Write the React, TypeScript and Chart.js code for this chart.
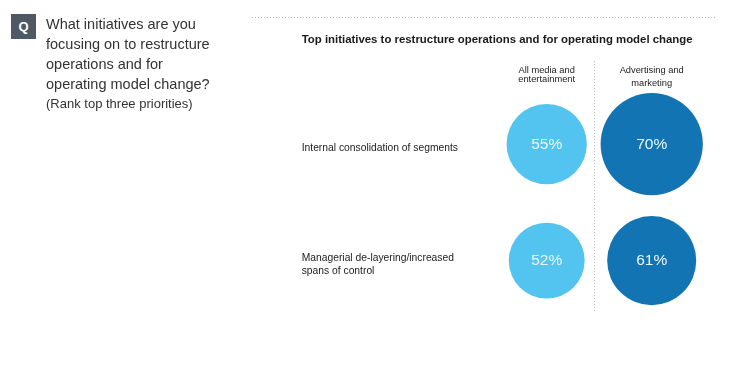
import React, { useEffect, useRef } from 'react';
import { Chart, registerables } from 'chart.js';

Chart.register(...registerables);

const chartTitle = 'Top initiatives to restructure operations and for operating model change';
const rowLabels = ['Internal consolidation of segments', 'Managerial de-layering/increased spans of control'];
const rowLabelLines = [['Internal consolidation of segments'], ['Managerial de-layering/increased', 'spans of control']];
const columnLabels = ['All media and entertainment', 'Advertising and marketing'];
const columnLabelLines = [['All media and', 'entertainment'], ['Advertising and', 'marketing']];
const allMediaValues = [55, 52];
const advertisingValues = [70, 61];
const questionLines = ['What initiatives are you', 'focusing on to restructure', 'operations and for', 'operating model change?'];
const questionNote = '(Rank top three priorities)';

const FONT = "'Liberation Sans', Arial, sans-serif";
const RADIUS_PER_POINT = 0.73;
const seriesValues = [allMediaValues, advertisingValues];
const seriesColors = ['#52c4ef', '#1274b2'];

const decorPlugin = {
  id: 'decor',
  beforeDraw(chart: any) {
    const ctx = chart.ctx;
    ctx.save();
    ctx.strokeStyle = '#bdbdbd';
    ctx.lineWidth = 1;
    ctx.setLineDash([1, 2]);
    ctx.beginPath();
    ctx.moveTo(252, 17.5);
    ctx.lineTo(715, 17.5);
    ctx.stroke();
    ctx.restore();
  },
  beforeDatasetsDraw(chart: any) {
    const m0 = chart.getDatasetMeta(0).data[0];
    const m1 = chart.getDatasetMeta(1).data[0];
    if (!m0 || !m1) return;
    const x = Math.round((m0.x + m0.options.radius + m1.x - m1.options.radius) / 2) + 0.5;
    const { top, bottom } = chart.chartArea;
    const ctx = chart.ctx;
    ctx.save();
    ctx.strokeStyle = '#bdbdbd';
    ctx.lineWidth = 1;
    ctx.setLineDash([1, 2]);
    ctx.beginPath();
    ctx.moveTo(x, top - 83);
    ctx.lineTo(x, bottom + 51.5);
    ctx.stroke();
    ctx.restore();
  },
  afterDatasetsDraw(chart: any) {
    const ctx = chart.ctx;
    ctx.save();
    ctx.fillStyle = '#eef7fc';
    ctx.font = `15.5px ${FONT}`;
    ctx.textAlign = 'center';
    ctx.textBaseline = 'middle';
    chart.data.datasets.forEach((ds: any, di: number) => {
      chart.getDatasetMeta(di).data.forEach((el: any, i: number) => {
        ctx.fillText(`${seriesValues[di][i]}%`, el.x, el.y + 0.5);
      });
    });
    ctx.restore();
  },
};

export default function App() {
  const ref = useRef<HTMLCanvasElement | null>(null);

  useEffect(() => {
    if (!ref.current) return;
    const chart = new Chart(ref.current, {
      type: 'bubble',
      data: {
        datasets: columnLabels.map((col, ci) => ({
          label: col,
          data: seriesValues[ci].map((v, ri) => ({ x: col, y: rowLabels[ri], r: v * RADIUS_PER_POINT })),
          backgroundColor: seriesColors[ci],
          borderWidth: 0,
          hoverRadius: 0,
          clip: false,
        })) as any,
      },
      options: {
        responsive: false,
        maintainAspectRatio: false,
        devicePixelRatio: 1,
        animation: false,
        events: [],
        layout: { autoPadding: false, padding: { left: 301.7, right: 24.8, top: 10, bottom: 106.4 } },
        plugins: {
          legend: { display: false },
          tooltip: { enabled: false },
          title: {
            display: true,
            text: chartTitle,
            align: 'start',
            color: '#1a1a1a',
            font: { family: FONT, size: 11.4, weight: 'bold', lineHeight: 1.2 },
            padding: { top: 23.16, bottom: 0 },
          },
        },
        scales: {
          x: {
            type: 'category',
            position: 'top',
            labels: columnLabels,
            offset: true,
            grid: { display: false, drawTicks: false },
            border: { display: false },
            ticks: {
              autoSkip: false,
              maxRotation: 0,
              crossAlign: 'center',
              padding: 60.4,
              color: '#222',
              font: (ctx: any) => ({ family: FONT, size: 9.3, lineHeight: ctx.index === 1 ? 1.47 : 1.04 }),
              callback: (_v: any, i: number) => columnLabelLines[i],
            },
            afterFit: (s: any) => {
              s.height = 97.26;
              s.paddingLeft = 0;
              s.paddingRight = 0;
            },
          },
          y: {
            type: 'category',
            position: 'left',
            labels: rowLabels,
            offset: false,
            grid: { display: false, drawTicks: false },
            border: { display: false },
            ticks: {
              autoSkip: false,
              crossAlign: 'far',
              labelOffset: 4,
              color: '#222',
              font: { family: FONT, size: 10.3, lineHeight: 1.233 },
              callback: (_v: any, i: number) => rowLabelLines[i],
            },
            afterFit: (s: any) => {
              s.width = 192.5;
              s.paddingTop = 0;
              s.paddingBottom = 0;
            },
          },
        },
      } as any,
      plugins: [decorPlugin],
    });
    return () => chart.destroy();
  }, []);

  return (
    <div style={{ position: 'fixed', left: 0, top: 0, width: 729, height: 367, background: '#fff', overflow: 'hidden' }}>
      <canvas ref={ref} width={729} height={367} style={{ position: 'absolute', left: 0, top: 0, display: 'block' }} />
      <div
        style={{
          position: 'absolute', left: 11, top: 14, width: 25, height: 25, background: '#4e5965',
          color: '#fff', fontFamily: FONT, fontWeight: 'bold', fontSize: 13, lineHeight: '25px', textAlign: 'center',
        }}
      >
        Q
      </div>
      <div
        style={{
          position: 'absolute', left: 46, top: 14.3, fontFamily: FONT, fontSize: 14.5, lineHeight: '20px',
          color: '#333', whiteSpace: 'nowrap',
        }}
      >
        {questionLines.map((l, i) => (
          <div key={i}>{l}</div>
        ))}
      </div>
      <div
        style={{
          position: 'absolute', left: 46, top: 95.8, fontFamily: FONT, fontSize: 13, lineHeight: '16px',
          color: '#333', whiteSpace: 'nowrap',
        }}
      >
        {questionNote}
      </div>
    </div>
  );
}
